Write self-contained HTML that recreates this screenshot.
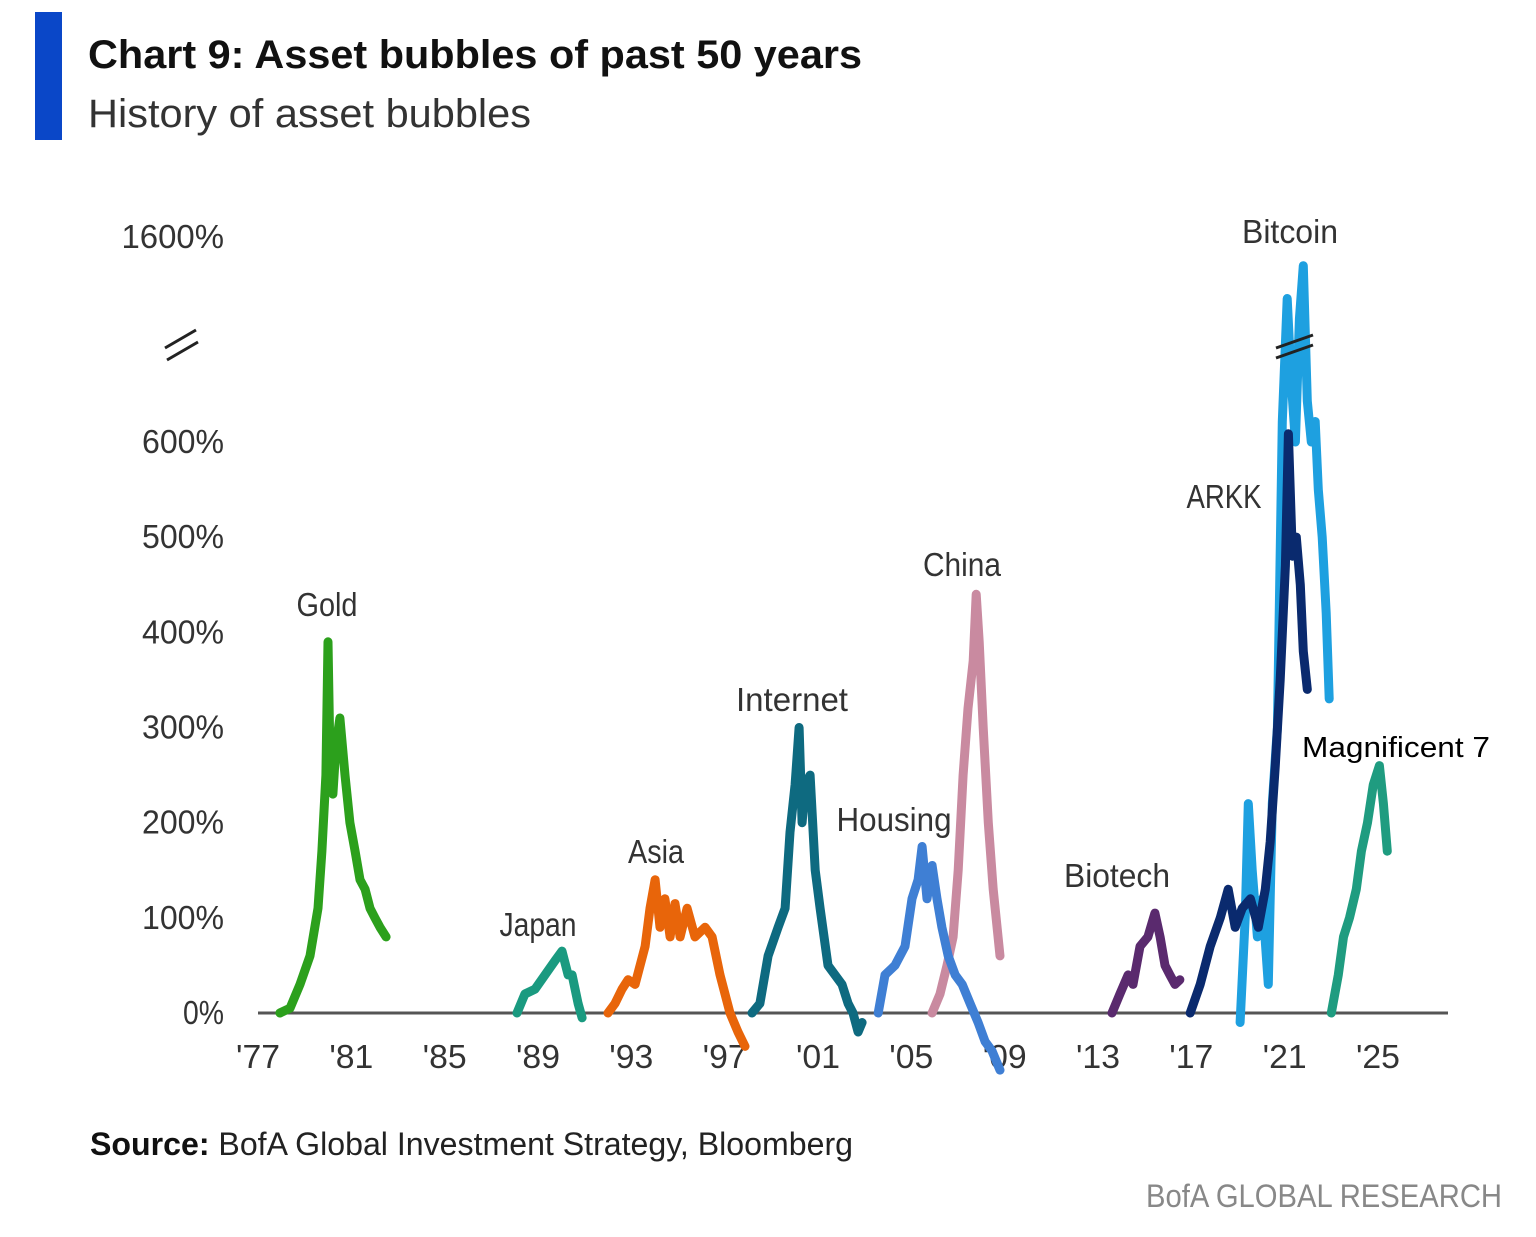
<!DOCTYPE html>
<html><head><meta charset="utf-8"><style>
html,body{margin:0;padding:0;background:#fff;}
svg{display:block;}
text{font-family:"Liberation Sans",sans-serif;}
</style></head><body>
<svg id="chart" width="1536" height="1237" viewBox="0 0 1536 1237" xmlns="http://www.w3.org/2000/svg">
<rect x="35" y="12" width="27" height="128" fill="#0a47c8"/>
<text x="88" y="68" font-size="40" font-weight="bold" fill="#111" textLength="774" lengthAdjust="spacingAndGlyphs">Chart 9: Asset bubbles of past 50 years</text>
<text x="88" y="127" font-size="40" fill="#333" textLength="443" lengthAdjust="spacingAndGlyphs">History of asset bubbles</text>
<g id="yaxis"></g>
<g id="xaxis"></g>
<line x1="258" y1="1013" x2="1448" y2="1013" stroke="#555" stroke-width="3"/>
<g stroke="#222" stroke-width="3">
<line x1="165" y1="348" x2="196" y2="330"/><line x1="167" y1="360" x2="198" y2="342"/></g>
<g id="series"></g>
<g stroke="#222" stroke-width="3">
<line x1="1276" y1="348" x2="1313" y2="335"/><line x1="1276" y1="358" x2="1313" y2="345"/></g>
<g id="labels"></g>
<text x="90" y="1155" font-size="32" fill="#222" textLength="763" lengthAdjust="spacingAndGlyphs"><tspan font-weight="bold" fill="#111">Source:</tspan> BofA Global Investment Strategy, Bloomberg</text>
<text x="1146" y="1207" font-size="32" fill="#888" textLength="356" lengthAdjust="spacingAndGlyphs">BofA GLOBAL RESEARCH</text>
</svg>
<script>
const yTicks = [0,100,200,300,400,500,600,1600];
const yTickLabels = ["0%","100%","200%","300%","400%","500%","600%","1600%"];
const xTicks = [1977,1981,1985,1989,1993,1997,2001,2005,2009,2013,2017,2021,2025];
const xTickLabels = ["'77","'81","'85","'89","'93","'97","'01","'05","'09","'13","'17","'21","'25"];

const goldDates = [1977.94,1978.37,1978.8,1979.23,1979.57,1979.74,1979.91,1980.0,1980.09,1980.21,1980.34,1980.51,1980.73,1980.94,1981.16,1981.37,1981.59,1981.8,1982.01,1982.23,1982.49];
const goldValues = [0,5,30,60,110,170,250,390,260,230,280,310,250,200,170,140,130,110,100,90,80];
const japanDates = [1988.1,1988.44,1988.87,1989.3,1989.73,1990.03,1990.29,1990.46,1990.72,1990.89];
const japanValues = [0,20,25,40,55,65,40,40,10,-5];
const asiaDates = [1992.0,1992.3,1992.6,1992.86,1993.16,1993.59,1993.8,1994.02,1994.23,1994.44,1994.66,1994.87,1995.09,1995.39,1995.73,1996.16,1996.46,1996.8,1997.23,1997.57,1997.87];
const asiaValues = [0,10,25,35,30,70,110,140,90,120,80,115,80,110,80,90,80,40,0,-20,-35];
const internetDates = [1998.17,1998.51,1998.86,1999.29,1999.59,1999.8,2000.02,2000.19,2000.32,2000.45,2000.66,2000.88,2001.09,2001.43,2001.73,2002.03,2002.29,2002.5,2002.72,2002.89];
const internetValues = [0,10,60,90,110,190,240,300,200,240,250,150,110,50,40,30,10,0,-20,-10];
const housingDates = [2003.58,2003.87,2004.3,2004.73,2005.03,2005.29,2005.46,2005.67,2005.89,2006.1,2006.31,2006.58,2006.88,2007.18,2007.52,2007.86,2008.16,2008.46,2008.8];
const housingValues = [0,40,50,70,120,140,175,120,155,120,90,60,40,30,10,-10,-30,-40,-60];
const chinaDates = [2005.89,2006.23,2006.53,2006.79,2007.01,2007.22,2007.43,2007.65,2007.78,2007.91,2008.08,2008.3,2008.51,2008.8];
const chinaValues = [0,20,50,80,150,250,320,370,440,390,300,200,130,60];
const biotechDates = [2013.6,2013.94,2014.29,2014.5,2014.8,2015.14,2015.44,2015.66,2015.87,2016.08,2016.3,2016.51];
const biotechValues = [0,20,40,30,70,80,105,80,50,40,30,35];
const bitcoinDates = [2019.09,2019.31,2019.44,2019.61,2019.83,2020.04,2020.3,2020.47,2020.69,2020.9,2021.11,2021.28,2021.46,2021.63,2021.8,2021.97,2022.14,2022.31,2022.44,2022.61,2022.78,2022.91];
const bitcoinValues = [-10,100,220,150,80,120,30,220,300,700,1300,900,600,1200,1460,800,600,700,550,500,420,330];
const arkkDates = [2016.95,2017.38,2017.81,2018.24,2018.58,2018.88,2019.18,2019.53,2019.87,2020.17,2020.38,2020.6,2020.81,2021.03,2021.16,2021.33,2021.5,2021.67,2021.8,2021.97];
const arkkValues = [0,30,70,100,130,90,110,120,90,130,180,260,350,470,640,480,500,450,380,340];
const mag7Dates = [2023.0,2023.3,2023.52,2023.78,2024.07,2024.29,2024.55,2024.8,2025.06,2025.23,2025.4];
const mag7Values = [0,40,80,100,130,170,200,240,260,220,170];

const NS = "http://www.w3.org/2000/svg";
function xScale(yr){ return 258 + (yr - 1977) * 23.333; }
function yScale(v){
  if (v <= 600) return 1013 - v * 0.9517;
  return 442 - (v - 600) * 0.205;
}
function mk(tag, attrs, parent){
  const e = document.createElementNS(NS, tag);
  for (const k in attrs) e.setAttribute(k, attrs[k]);
  parent.appendChild(e);
  return e;
}
const yaxis = document.getElementById('yaxis');
yTicks.forEach((t,i)=>{
  const el = mk('text',{x:224,y:yScale(t)+11,'font-size':33,fill:'#333','text-anchor':'end',textLength:yTickLabels[i].length*20.5,lengthAdjust:'spacingAndGlyphs'},yaxis);
  
  
  el.textContent = yTickLabels[i];
});
const xaxis = document.getElementById('xaxis');
xTicks.forEach((t,i)=>{
  const el = mk('text',{x:xScale(t),y:1068,'font-size':33,fill:'#333','text-anchor':'middle',textLength:44,lengthAdjust:'spacingAndGlyphs'},xaxis);
  
  
  el.textContent = xTickLabels[i];
});
const seriesList = [
  ['gold', goldDates, goldValues, '#2ca01c'],
  ['japan', japanDates, japanValues, '#1a9a80'],
  ['asia', asiaDates, asiaValues, '#e8650a'],
  ['internet', internetDates, internetValues, '#0e6a80'],
  ['china', chinaDates, chinaValues, '#c98aa0'],
  ['housing', housingDates, housingValues, '#3f7fd4'],
  ['biotech', biotechDates, biotechValues, '#5a2a6e'],
  ['bitcoin', bitcoinDates, bitcoinValues, '#1ea0e0'],
  ['arkk', arkkDates, arkkValues, '#0a2a6e'],
  ['mag7', mag7Dates, mag7Values, '#1f9c80']
];
const sg = document.getElementById('series');
seriesList.forEach(s=>{
  const pts = s[1].map((d,i)=>xScale(d).toFixed(1)+','+yScale(s[2][i]).toFixed(1)).join(' ');
  const el = mk('polyline',{points:pts,fill:'none',stroke:s[3],'stroke-width':9,'stroke-linejoin':'round','stroke-linecap':'round'},sg);
  
  
});
const labels = [
  ['Gold',327,616,61,'gold-label'],['Japan',538,936,77,'japan-label'],['Asia',656,863,56,'asia-label'],
  ['Internet',792,711,112,'internet-label'],['Housing',894,831,115,'housing-label'],['China',962,576,78,'china-label'],
  ['Biotech',1117,887,106,'biotech-label'],['ARKK',1224,508,75,'arkk-label'],['Bitcoin',1290,243,96,'bitcoin-label']
];
const lg = document.getElementById('labels');
labels.forEach(l=>{
  const el = mk('text',{x:l[1],y:l[2],'font-size':33,fill:'#333','text-anchor':'middle',textLength:l[3],lengthAdjust:'spacingAndGlyphs'},lg);
  
  
  el.textContent = l[0];
});
const m7 = mk('text',{x:1302,y:757,'font-size':29,fill:'#000',textLength:188,lengthAdjust:'spacingAndGlyphs'},lg);


m7.textContent = 'Magnificent 7';
</script>
</body></html>
